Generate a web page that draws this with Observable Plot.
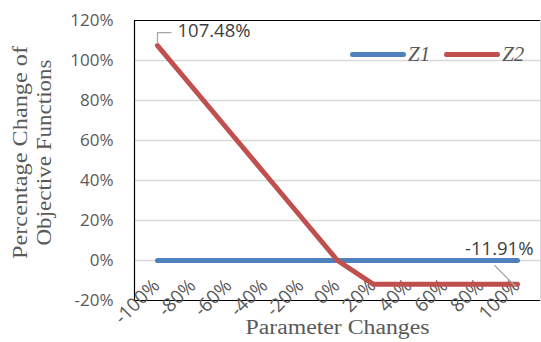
<!DOCTYPE html>
<html><head><meta charset="utf-8">
<script src="https://cdn.jsdelivr.net/npm/d3@7"></script>
<script src="https://cdn.jsdelivr.net/npm/@observablehq/plot@0.6"></script>
<style>
body{margin:0;background:#fff;}
#chart{position:relative;width:541px;height:342px;overflow:hidden;}
#legend{position:absolute;left:350px;top:42px;display:flex;align-items:center;font:italic 21px "Liberation Serif";color:#595959;white-space:nowrap;}
.sw{display:inline-block;width:56px;height:5px;border-radius:3px;margin-right:2px;}
</style></head><body>
<div id="chart"><div id="legend"></div></div>
<script>
// ---- data ----
const categories = ["-100%","-80%","-60%","-40%","-20%","0%","20%","40%","60%","80%","100%"];
const z1Values = [0,0,0,0,0,0,0,0,0,0,0];
const z2Values = [107.48,86,64.5,43,21.5,0,-11.91,-11.91,-11.91,-11.91,-11.91];
const seriesNames = ["Z1","Z2"];
const seriesColors = ["#4f81bd","#c0504d"];
const yTicks = [-20,0,20,40,60,80,100,120];
const gridTicks = [0,20,40,60,80,100];
const labelIdx = [0,10];
const labelTexts = ["107.48%","-11.91%"];
const xTitle = "Parameter Changes";
const yTitleLines = ["Percentage Change of","Objective Functions"];

const rows = [];
categories.forEach((c,i)=>{
  rows.push({x:c, y:z1Values[i], s:seriesNames[0]});
  rows.push({x:c, y:z2Values[i], s:seriesNames[1]});
});
const lab = labelIdx.map((i,k)=>({x:categories[i], y:z2Values[i], t:labelTexts[k]}));

const leader1 = {draw(ctx){ctx.moveTo(0,-2);ctx.lineTo(0,-13);ctx.lineTo(14,-13);}};
const leader2 = {draw(ctx){ctx.moveTo(-2,2);ctx.lineTo(-23,-19);}};

const tickFont = "Open Sans";
const grey = "#595959";
const titleWidths = {"Parameter Changes":184, "Percentage Change of":213, "Objective Functions":186};

const chart = Plot.plot({
  width:541, height:342,
  marginTop:20, marginLeft:134, marginRight:1, marginBottom:42,
  style:{background:"#fff", fontFamily:tickFont},
  x:{type:"point", domain:categories, padding:0.5, label:null},
  y:{domain:[-20,120], label:null},
  color:{domain:seriesNames, range:seriesColors},
  marks:[
    Plot.gridY(gridTicks,{stroke:"#d9d9d9", strokeOpacity:1, strokeWidth:1.5}),
    Plot.frame({stroke:"#d9d9d9"}),
    Plot.ruleY([120],{stroke:"#000", strokeWidth:1.2}),
    Plot.ruleY([-20],{stroke:"#000", strokeWidth:1.2}),
    Plot.frame({anchor:"left", stroke:"#000", strokeWidth:1.2}),
    Plot.axisY({ticks:yTicks, tickSize:0, tickPadding:21, tickFormat:d=>d+"%", fontSize:17, color:grey, label:null}),
    Plot.axisX({tickRotate:-45, tickSize:0, tickPadding:0, dy:-18, dx:-1, fontSize:19, color:grey, label:null}),
    Plot.line(rows,{x:"x", y:"y", z:"s", stroke:"s", strokeWidth:5, strokeLinecap:"round", strokeLinejoin:"round"}),
    Plot.dot([lab[0]],{x:"x", y:"y", symbol:leader1, stroke:"#a6a6a6", fill:"none", strokeWidth:1.3}),
    Plot.dot([lab[1]],{x:"x", y:"y", symbol:leader2, stroke:"#a6a6a6", fill:"none", strokeWidth:1.3}),
    Plot.text([lab[0]],{x:"x", y:"y", text:"t", textAnchor:"start", dx:20, dy:-14, fontSize:18.5, fill:"#404040"}),
    Plot.text([lab[1]],{x:"x", y:"y", text:"t", textAnchor:"end", dx:16, dy:-35, fontSize:18.5, fill:"#404040"}),
    Plot.text([xTitle],{text:d=>d, frameAnchor:"bottom", dy:33, fontSize:20, fontFamily:"Liberation Serif", fill:grey}),
    Plot.text([yTitleLines.join("\n")],{text:d=>d, frameAnchor:"left", textAnchor:"middle", rotate:-90, dx:-103, dy:-8, fontSize:20, lineHeight:1.2, fontFamily:"Liberation Serif", fill:grey})
  ]
});
// stretch axis titles to the reference's text lengths
chart.querySelectorAll("text, tspan").forEach(el=>{
  if (el.children.length===0 && titleWidths[el.textContent]) {
    el.setAttribute("textLength", titleWidths[el.textContent]);
    el.setAttribute("lengthAdjust","spacingAndGlyphs");
  }
});
document.getElementById("chart").prepend(chart);

const leg = document.getElementById("legend");
seriesNames.forEach((n,i)=>{
  const sw = document.createElement("span"); sw.className="sw"; sw.style.background=seriesColors[i];
  const t = document.createElement("span"); t.textContent=n; t.style.marginRight = i===0 ? "14px" : "0";
  leg.append(sw,t);
});
</script>
</body></html>
